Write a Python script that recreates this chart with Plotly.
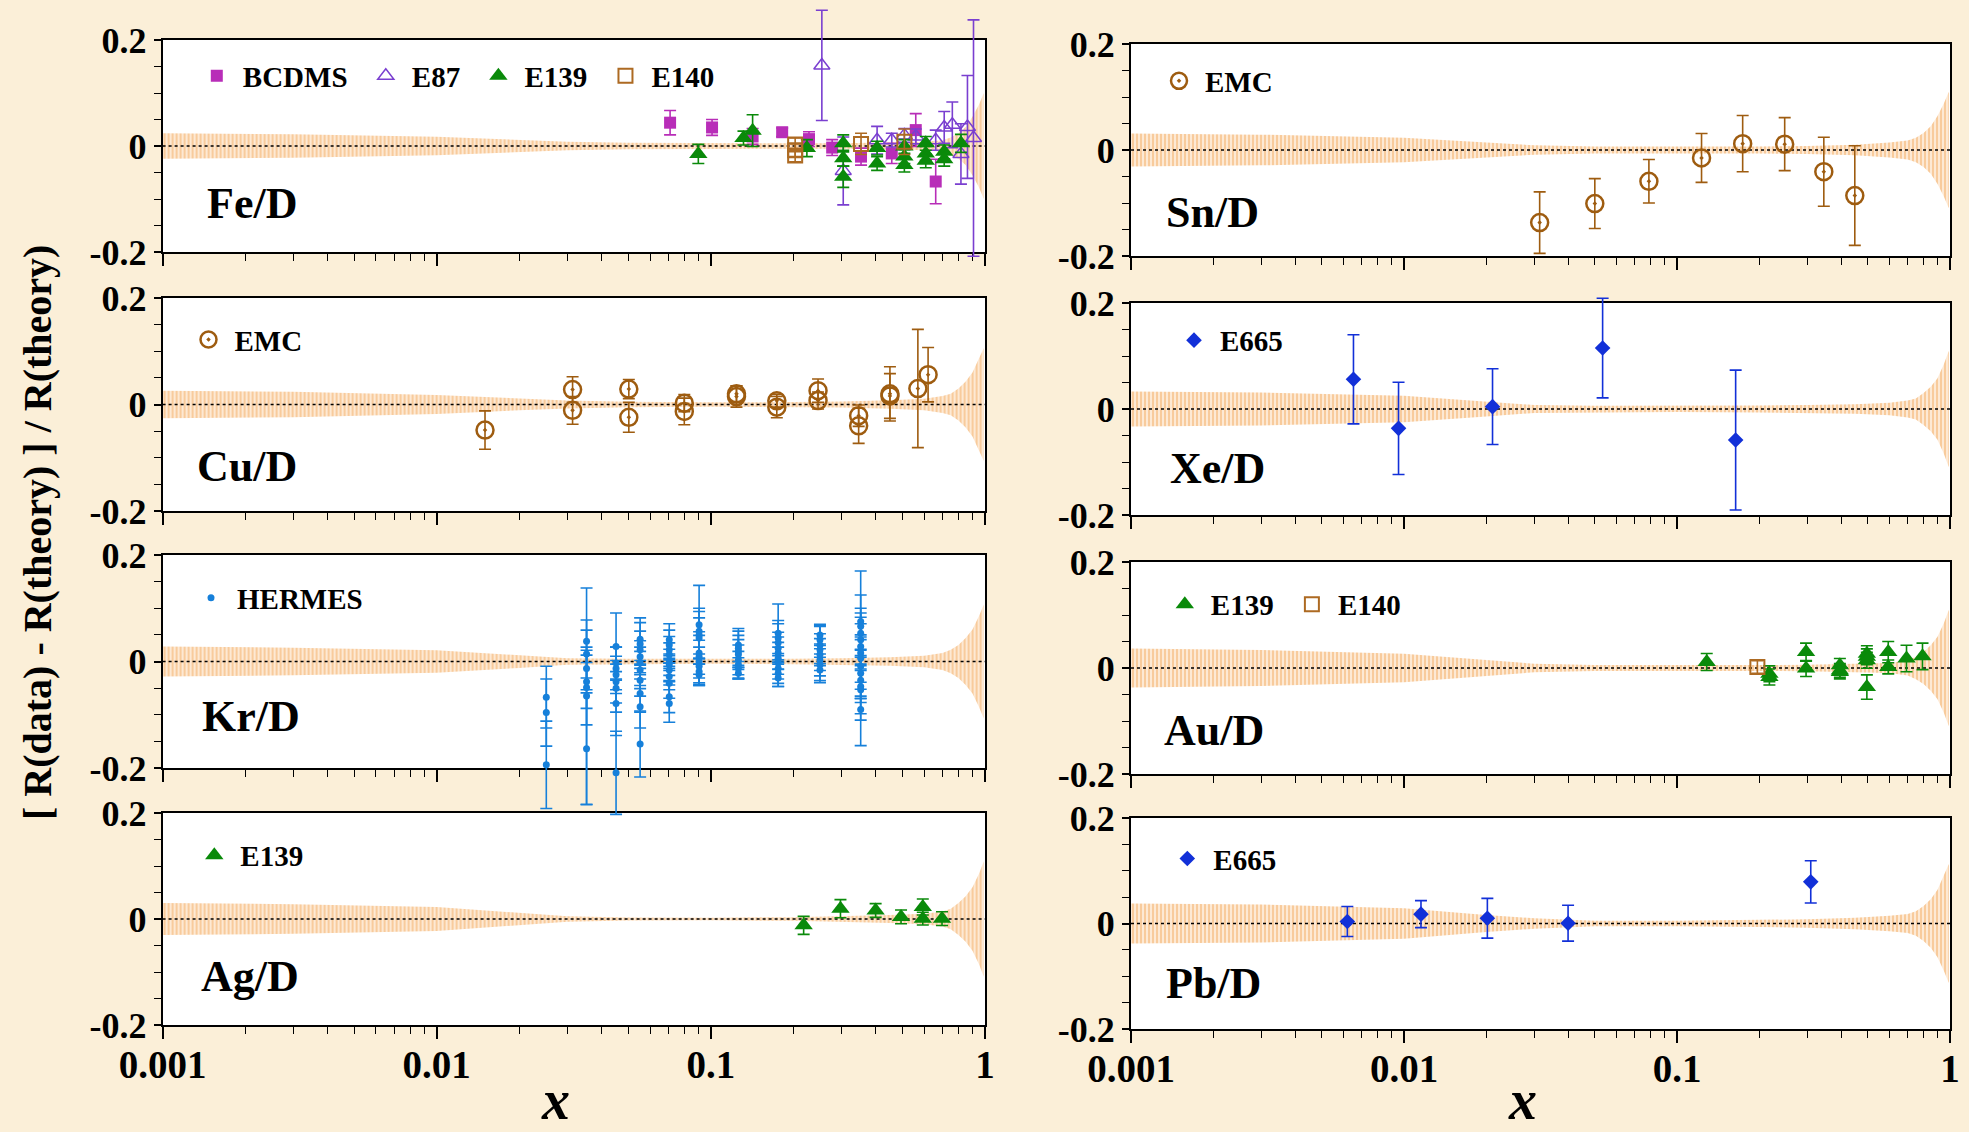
import plotly.graph_objects as go

# ---------------- theory uncertainty band (half-width vs x) ----------------
BAND_X = [0.001, 0.003, 0.01, 0.02, 0.03, 0.05, 0.1, 0.2, 0.3, 0.45,
          0.6, 0.7, 0.75, 0.8, 0.85, 0.9, 0.95, 0.99]
FE_BAND = [0.024, 0.022, 0.0175, 0.011, 0.008, 0.006, 0.005, 0.005, 0.005, 0.006,
           0.008, 0.011, 0.016, 0.024, 0.036, 0.055, 0.078, 0.100]
SN_BAND = [0.031, 0.029, 0.023, 0.014, 0.009, 0.0065, 0.006, 0.0065, 0.0075, 0.010,
           0.014, 0.018, 0.023, 0.032, 0.045, 0.064, 0.088, 0.110]
CU_BAND = [0.026, 0.024, 0.018, 0.011, 0.0075, 0.005, 0.004, 0.0045, 0.0055, 0.008,
           0.011, 0.016, 0.020, 0.030, 0.043, 0.060, 0.085, 0.106]
XE_BAND = [0.033, 0.031, 0.025, 0.014, 0.0075, 0.006, 0.0057, 0.0065, 0.0075, 0.009,
           0.012, 0.016, 0.020, 0.030, 0.042, 0.058, 0.085, 0.110]
KR_BAND = [0.028, 0.026, 0.021, 0.012, 0.0063, 0.005, 0.0044, 0.005, 0.0063, 0.008,
           0.011, 0.016, 0.022, 0.031, 0.044, 0.060, 0.085, 0.107]
AU_BAND = [0.037, 0.034, 0.027, 0.015, 0.008, 0.0055, 0.005, 0.0055, 0.006, 0.0075,
           0.0095, 0.014, 0.021, 0.030, 0.043, 0.059, 0.085, 0.110]
AG_BAND = [0.030, 0.028, 0.0226, 0.012, 0.005, 0.003, 0.0025, 0.0035, 0.005, 0.0075,
           0.010, 0.014, 0.0195, 0.030, 0.043, 0.060, 0.085, 0.109]
PB_BAND = [0.038, 0.036, 0.029, 0.016, 0.010, 0.005, 0.005, 0.0065, 0.008, 0.011,
           0.0145, 0.018, 0.023, 0.033, 0.046, 0.064, 0.090, 0.113]

X_RANGE = [0.001, 1.0]

# ---------------- Fe/D ----------------
FE_BCDMS_X = [0.071, 0.101, 0.142, 0.182, 0.228, 0.277, 0.353, 0.457, 0.559, 0.661]
FE_BCDMS_Y = [0.044, 0.035, 0.018, 0.026, 0.013, -0.003, -0.020, -0.014, 0.030, -0.067]
FE_BCDMS_E = [0.023, 0.015, 0.015, 0.008, 0.014, 0.015, 0.016, 0.019, 0.031, 0.042]

FE_E87_X = [0.254, 0.304, 0.404, 0.457, 0.508, 0.559, 0.661, 0.71, 0.76, 0.817, 0.863, 0.908]
FE_E87_Y = [0.152, -0.047, 0.011, 0.011, 0.020, 0.018, 0.011, 0.035, 0.040, -0.015, 0.036, 0.015]
FE_E87_E = [0.104, 0.064, 0.026, 0.013, 0.013, 0.014, 0.019, 0.030, 0.043, 0.057, 0.097, 0.223]

FE_E139_X = [0.090, 0.1315, 0.142, 0.224, 0.304, 0.304, 0.304, 0.404, 0.404,
             0.508, 0.508, 0.508, 0.608, 0.608, 0.608, 0.71, 0.71, 0.817]
FE_E139_Y = [-0.015, 0.015, 0.029, -0.004, 0.005, -0.023, -0.058, -0.004, -0.033,
             -0.001, -0.020, -0.036, 0.005, -0.014, -0.028, -0.011, -0.025, 0.005]
FE_E139_E = [0.018, 0.013, 0.030, 0.016, 0.016, 0.015, 0.020, 0.013, 0.013,
             0.013, 0.013, 0.013, 0.013, 0.013, 0.013, 0.013, 0.013, 0.017]

FE_E140_X = [0.203, 0.203, 0.203, 0.353, 0.508]
FE_E140_Y = [0.003, -0.008, -0.018, 0.004, 0.008]
FE_E140_E = [0.012, 0.012, 0.012, 0.020, 0.024]

# ---------------- Sn/D ----------------
SN_EMC_X = [0.0314, 0.050, 0.0789, 0.123, 0.174, 0.248, 0.345, 0.448]
SN_EMC_Y = [-0.137, -0.101, -0.059, -0.015, 0.012, 0.011, -0.041, -0.086]
SN_EMC_E = [0.058, 0.047, 0.041, 0.046, 0.053, 0.050, 0.065, 0.094]

# ---------------- Cu/D ----------------
CU_EMC_X = [0.0150, 0.0313, 0.0313, 0.0502, 0.0502, 0.080, 0.080, 0.124, 0.124,
            0.174, 0.174, 0.246, 0.246, 0.346, 0.346, 0.45, 0.45, 0.569, 0.62]
CU_EMC_Y = [-0.048, 0.028, -0.011, 0.029, -0.024, 0.0025, -0.013, 0.015, 0.020,
            0.007, -0.005, 0.026, 0.0075, -0.021, -0.040, 0.020, 0.016, 0.030, 0.056]
CU_EMC_E = [0.036, 0.024, 0.026, 0.018, 0.028, 0.016, 0.025, 0.020, 0.015,
            0.012, 0.020, 0.022, 0.016, 0.020, 0.033, 0.051, 0.042, 0.111, 0.051]

# ---------------- Xe/D ----------------
XE_E665_X = [0.00653, 0.00955, 0.0211, 0.0534, 0.164]
XE_E665_Y = [0.056, -0.0365, 0.0044, 0.115, -0.0586]
XE_E665_E = [0.084, 0.087, 0.0715, 0.094, 0.132]

# ---------------- Kr/D ----------------
KR_HERMES_X = ([0.0251] * 3 + [0.0352] * 7 + [0.0451] * 8 + [0.0552] * 10 +
               [0.0705] * 11 + [0.0906] * 10 + [0.126] * 8 + [0.176] * 10 +
               [0.250] * 8 + [0.352] * 13)
KR_HERMES_Y = [-0.067, -0.096, -0.194,
               0.038, 0.014, -0.013, -0.038, -0.049, -0.065, -0.164,
               0.028, -0.003, -0.013, -0.025, -0.038, -0.050, -0.079, -0.209,
               0.042, 0.033, 0.022, 0.009, -0.003, -0.016, -0.035, -0.060, -0.085, -0.155,
               0.041, 0.031, 0.022, 0.013, 0.003, -0.006, -0.016, -0.028, -0.041, -0.066, -0.079,
               0.069, 0.057, 0.050, 0.044, 0.016, 0.009, 0.0, -0.009, -0.019, -0.025,
               0.031, 0.025, 0.019, 0.013, 0.003, -0.006, -0.013, -0.022,
               0.053, 0.044, 0.035, 0.025, 0.016, 0.006, -0.003, -0.013, -0.022, -0.031,
               0.050, 0.041, 0.031, 0.022, 0.013, 0.003, -0.006, -0.016,
               0.075, 0.066, 0.053, 0.041, 0.028, 0.016, 0.006, -0.009, -0.022, -0.035,
               -0.047, -0.053, -0.090]
KR_HERMES_E = [0.058, 0.063, 0.082,
               0.040, 0.045, 0.040, 0.050, 0.070, 0.203, 0.105,
               0.063, 0.030, 0.040, 0.035, 0.040, 0.045, 0.060, 0.078,
               0.040, 0.040, 0.035, 0.030, 0.030, 0.035, 0.030, 0.035, 0.040, 0.062,
               0.030, 0.028, 0.025, 0.022, 0.020, 0.020, 0.022, 0.025, 0.028, 0.030, 0.035,
               0.074, 0.043, 0.044, 0.038, 0.040, 0.040, 0.040, 0.036, 0.024, 0.020,
               0.031, 0.032, 0.030, 0.028, 0.028, 0.025, 0.020, 0.011,
               0.055, 0.033, 0.036, 0.030, 0.030, 0.030, 0.030, 0.028, 0.025, 0.016,
               0.020, 0.027, 0.035, 0.030, 0.030, 0.030, 0.030, 0.024,
               0.025, 0.025, 0.030, 0.030, 0.097, 0.030, 0.164, 0.030, 0.030, 0.030,
               0.030, 0.045, 0.020]

# ---------------- Au/D ----------------
AU_E139_X = [0.1285, 0.218, 0.218, 0.297, 0.297, 0.395, 0.395, 0.395,
             0.496, 0.496, 0.496, 0.496, 0.594, 0.594, 0.693, 0.793]
AU_E139_Y = [0.0114, -0.011, -0.017, 0.030, -0.001, 0.005, -0.0045, -0.0075,
             0.027, 0.021, 0.0146, -0.036, 0.030, 0.002, 0.018, 0.022]
AU_E139_E = [0.016, 0.015, 0.015, 0.017, 0.015, 0.013, 0.013, 0.013,
             0.015, 0.015, 0.015, 0.023, 0.020, 0.013, 0.025, 0.025]
AU_E140_X = [0.197]
AU_E140_Y = [0.002]
AU_E140_E = [0.012]

# ---------------- Ag/D ----------------
AG_E139_X = [0.218, 0.297, 0.399, 0.494, 0.593, 0.593, 0.697]
AG_E139_Y = [-0.012, 0.0195, 0.016, 0.004, 0.0226, 0.0006, 0.0006]
AG_E139_E = [0.017, 0.017, 0.013, 0.013, 0.015, 0.012, 0.013]

# ---------------- Pb/D ----------------
PB_E665_X = [0.0062, 0.01154, 0.0202, 0.0399, 0.309]
PB_E665_Y = [0.0038, 0.0177, 0.010, 0.0006, 0.079]
PB_E665_E = [0.0285, 0.0256, 0.0377, 0.034, 0.040]

# ---------------- tick labels ----------------
X_TICKS = [0.001, 0.01, 0.1, 1]
X_TICKTEXT = ["0.001", "0.01", "0.1", "1"]
Y_TICKS = [-0.2, 0, 0.2]
Y_TICKTEXT = ["-0.2", "0", "0.2"]
Y_MINOR = [-0.15, -0.1, -0.05, 0.05, 0.1, 0.15]
X_MINOR = [m * 10.0 ** e for e in (-3, -2, -1) for m in range(2, 10)]

# ---------------- styles ----------------
FONT = "Liberation Serif"
NBSP = "\u00a0"
STYLE = {
    "BCDMS":  dict(symbol="square", size=12, color="#b82db8", line=0),
    "E87":    dict(symbol="triangle-up-open", size=14, color="#7a3fd0", line=1.5),
    "E139":   dict(symbol="triangle-up", size=16, color="#0a8a0a", line=0),
    "E140":   dict(symbol="square-open", size=14, color="#ad6a22", line=2),
    "EMC":    dict(symbol="circle-open-dot", size=17, color="#9e5c10", line=2.5),
    "E665":   dict(symbol="diamond", size=12, color="#1230d8", line=0),
    "HERMES": dict(symbol="circle", size=7, color="#1680da", line=0),
}

W, H = 1969, 1132
LEFT = (162.6, 985.0)
RIGHT = (1131.0, 1950.0)
ROWS_L = [(40, 252), (298, 511), (555, 768), (813, 1025)]
ROWS_R = [(44, 256), (303, 515), (562, 774), (818, 1029)]
EXT = 60  # extra room (px) around each panel where error bars may overflow

# panel: label, column, row, band, series list, legend anchor (px), label pos (px)
PANELS = [
    ("Fe/D", "L", 0, FE_BAND,
     [("BCDMS", FE_BCDMS_X, FE_BCDMS_Y, FE_BCDMS_E),
      ("E87", FE_E87_X, FE_E87_Y, FE_E87_E),
      ("E139", FE_E139_X, FE_E139_Y, FE_E139_E),
      ("E140", FE_E140_X, FE_E140_Y, FE_E140_E)],
     (216.8, 79), (205.4, 204)),
    ("Sn/D", "R", 0, SN_BAND,
     [("EMC", SN_EMC_X, SN_EMC_Y, SN_EMC_E)],
     (1179, 84), (1163.8, 212.5)),
    ("Cu/D", "L", 1, CU_BAND,
     [("EMC", CU_EMC_X, CU_EMC_Y, CU_EMC_E)],
     (208.5, 342.7), (194.5, 466)),
    ("Xe/D", "R", 1, XE_BAND,
     [("E665", XE_E665_X, XE_E665_Y, XE_E665_E)],
     (1194, 343.3), (1168, 468)),
    ("Kr/D", "L", 2, KR_BAND,
     [("HERMES", KR_HERMES_X, KR_HERMES_Y, KR_HERMES_E)],
     (211, 601), (199.6, 716.7)),
    ("Au/D", "R", 2, AU_BAND,
     [("E139", AU_E139_X, AU_E139_Y, AU_E139_E),
      ("E140", AU_E140_X, AU_E140_Y, AU_E140_E)],
     (1184.8, 607.3), (1162, 730)),
    ("Ag/D", "L", 3, AG_BAND,
     [("E139", AG_E139_X, AG_E139_Y, AG_E139_E)],
     (214.3, 858.3), (199, 976.7)),
    ("Pb/D", "R", 3, PB_BAND,
     [("E665", PB_E665_X, PB_E665_Y, PB_E665_E)],
     (1187.3, 861.7), (1163.8, 983)),
]

fig = go.Figure()
layout = dict(
    template="none",
    width=W, height=H, margin=dict(l=0, r=0, t=0, b=0, autoexpand=False),
    paper_bgcolor="#fbefd8", plot_bgcolor="rgba(0,0,0,0)",
    font=dict(family=FONT, color="black"),
    annotations=[], shapes=[], showlegend=True,
)
NP = len(PANELS)


def ax_id(k):
    return ("x" if k == 1 else f"x{k}", "y" if k == 1 else f"y{k}",
            "xaxis" if k == 1 else f"xaxis{k}", "yaxis" if k == 1 else f"yaxis{k}")


for i, (label, col, row, band, series, leg_px, lab_px) in enumerate(PANELS):
    n = i + 1
    xa, ya, xkey, ykey = ax_id(n)
    # invisible twin subplot (same scale, taller) that carries the data points
    dxa, dya, dxkey, dykey = ax_id(n + NP)
    lkey = "legend" if n == 1 else f"legend{n}"
    x0, x1 = LEFT if col == "L" else RIGHT
    top, bot = (ROWS_L if col == "L" else ROWS_R)[row]
    bottom_row = row == 3

    layout[xkey] = dict(
        domain=[x0 / W, x1 / W], anchor=ya, type="log", range=[-3, 0],
        automargin=False, layer="above traces",
        showline=True, linecolor="black", linewidth=2, mirror=True,
        showgrid=False, zeroline=False,
        ticks="outside", tickvals=X_TICKS, ticktext=X_TICKTEXT,
        ticklen=12, tickwidth=1.5, tickcolor="black",
        minor=dict(tickvals=X_MINOR, ticks="outside", ticklen=7, tickwidth=1,
                   tickcolor="black", showgrid=False),
        showticklabels=bottom_row, ticklabelstandoff=-8,
        tickfont=dict(family=FONT, size=39, color="black", weight="bold"),
    )
    layout[ykey] = dict(
        domain=[1 - bot / H, 1 - top / H], anchor=xa, range=[-0.2, 0.2],
        automargin=False,
        showline=True, linecolor="black", linewidth=2, mirror=True,
        showgrid=False, zeroline=False,
        ticks="outside", tickvals=Y_TICKS, ticktext=Y_TICKTEXT,
        ticklen=7, tickwidth=1.5, tickcolor="black",
        minor=dict(tickvals=Y_MINOR, ticks="outside", ticklen=7, tickwidth=1,
                   tickcolor="black", showgrid=False),
        tickfont=dict(family=FONT, size=36, color="black", weight="bold"),
    )

    # data subplot: same x scale, y scale extended by EXT px on both sides
    upp = 0.4 / (bot - top)
    ext_top = min(EXT, top)
    ext_bot = min(EXT, H - bot)
    layout[dxkey] = dict(domain=[x0 / W, x1 / W], anchor=dya, type="log",
                         range=[-3, 0], visible=False, automargin=False)
    layout[dykey] = dict(domain=[1 - (bot + ext_bot) / H, 1 - (top - ext_top) / H],
                         anchor=dxa, range=[-0.2 - ext_bot * upp, 0.2 + ext_top * upp],
                         visible=False, automargin=False)

    # white panel background
    layout["shapes"].append(dict(
        type="rect", xref=f"{xa} domain", yref=f"{ya} domain",
        x0=0, x1=1, y0=0, y1=1, fillcolor="white", line=dict(width=0),
        layer="below"))

    # hatched theory band
    upper = list(band)
    lower = [-v for v in band]
    fig.add_trace(go.Scatter(
        x=BAND_X + BAND_X[::-1], y=upper + lower[::-1],
        xaxis=xa, yaxis=ya, mode="lines", line=dict(width=0, color="#f9d2a8"),
        fill="toself", fillcolor="#fde7cf",
        fillpattern=dict(shape="|", fgcolor="#f8cb9c", bgcolor="#fde9d4",
                         size=4, solidity=0.5, fillmode="replace"),
        showlegend=False, hoverinfo="skip"))
    # dotted zero line
    fig.add_trace(go.Scatter(
        x=X_RANGE, y=[0, 0], xaxis=xa, yaxis=ya, mode="lines",
        line=dict(color="black", width=1.5, dash="dot"),
        showlegend=False, hoverinfo="skip"))

    for name, xs, ys, es in series:
        st = STYLE[name]
        marker = dict(symbol=st["symbol"], size=st["size"], color=st["color"],
                      line=dict(width=st["line"], color=st["color"]))
        fig.add_trace(go.Scatter(
            x=xs, y=ys, xaxis=dxa, yaxis=dya, mode="markers", name=name + NBSP,
            marker=marker, cliponaxis=False, legend=lkey,
            error_y=dict(type="data", array=es, visible=True, color=st["color"],
                         thickness=1.6, width=6)))

    lx, ly = leg_px
    layout[lkey] = dict(
        x=(lx - 26) / W, y=1 - (ly - 3) / H, xanchor="left", yanchor="middle",
        orientation="h", bgcolor="rgba(0,0,0,0)", borderwidth=0,
        itemwidth=42, itemclick=False, itemdoubleclick=False,
        font=dict(family=FONT, size=29, color="black", weight="bold"),
    )

    px, py = lab_px
    layout["annotations"].append(dict(
        text=label, xref="paper", yref="paper", x=px / W, y=1 - py / H,
        xanchor="left", yanchor="middle", showarrow=False,
        font=dict(family=FONT, size=44, color="black", weight="bold")))

# axis titles
layout["annotations"].append(dict(
    text="[ R(data) - R(theory) ] / R(theory)", xref="paper", yref="paper",
    x=37 / W, y=1 - 533 / H, textangle=-90, showarrow=False,
    xanchor="center", yanchor="middle",
    font=dict(family=FONT, size=40, color="black", weight="bold")))
for cx in (555, 1522):
    layout["annotations"].append(dict(
        text="<i>x</i>", xref="paper", yref="paper", x=cx / W, y=0,
        showarrow=False, xanchor="center", yanchor="bottom", borderpad=0,
        font=dict(family=FONT, size=56, color="black", weight="bold")))

fig.update_layout(**layout)
fig.write_html("out.html")
